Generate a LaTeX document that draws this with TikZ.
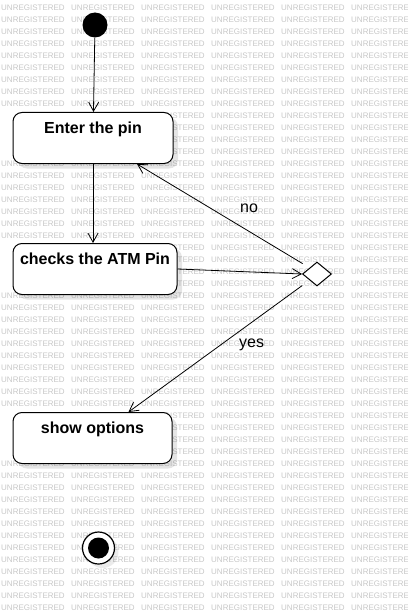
\documentclass[tikz,border=0pt]{standalone}
\usepackage{fontspec}
\setmainfont{Liberation Sans}
\usetikzlibrary{positioning}
\usetikzlibrary{shapes.geometric}
\usetikzlibrary{arrows.meta}
\usetikzlibrary{shadows}

\tikzset{
  watermark/.style={font=\fontsize{8}{9}\selectfont,text=black!22,inner sep=0pt,anchor=west},
  state/.style={draw,rounded corners=9pt,fill=white,line width=1pt,
    font=\fontsize{16}{18}\selectfont\bfseries,inner xsep=0pt,inner ysep=0pt,
    text height=21pt,text depth=30pt,anchor=north,
    drop shadow={fill=black,opacity=0.10,shadow xshift=5pt,shadow yshift=-5pt}},
  decision/.style={draw,diamond,fill=white,minimum width=29pt,minimum height=24pt,
    inner sep=0pt,line width=1pt},
  initial/.style={circle,fill=black,minimum size=25pt,inner sep=0pt},
  final/.style={circle,draw,line width=1.2pt,fill=white,minimum size=32pt,inner sep=0pt,
    drop shadow={fill=black,opacity=0.08,shadow xshift=4pt,shadow yshift=-4pt}},
  flow/.style={-{Straight Barb[length=9pt,width=10pt]},line width=0.8pt},
  lbl/.style={font=\fontsize{16}{18}\selectfont}
}

\begin{document}
\begin{tikzpicture}[x=1pt,y=-1pt]
\useasboundingbox (0,0) rectangle (407,615);

% background watermark (the copies hidden under the states are left out)
\begin{scope}
  \clip (0,0) rectangle (407,615);
  \foreach \r in {0,...,50} {
    \foreach \c in {0,...,5} {
      \pgfmathtruncatemacro{\hide}{(\c<2)*((\r>8)*(\r<13)+(\r>19)*(\r<24)+(\r>33)*(\r<38))}
      \ifnum\hide=0
        \node[watermark] (wm-\c-\r) at (\c*70+1, 8+\r*12) {UNREGISTERED};
      \fi
    }
  }
\end{scope}

% start and end
\node[initial] (ini) at (95,25) {};
\node[final] (fin) at (98.5,548) {};
\fill (fin.center) circle [radius=10.5pt];

% states
\node[state,minimum width=160pt] (enter) at (93,112) {Enter the pin};
\node[state,minimum width=164pt] (check) at (95,243) {checks the ATM Pin};
\node[state,minimum width=159pt] (show) at (92.5,412) {show options};

% decision
\node[decision] (dec) at (317,274) {};

% transitions
\draw[flow] (ini) -- (enter);
\draw[flow] (enter.south) -- (enter.south |- check.north);
\draw[flow] (check.east) -- (dec.west);
\draw[flow,shorten <=8pt] (dec.north west) -- node[lbl,pos=0.35,above=15pt] (no) {no} ([xshift=44pt]enter.south);
\draw[flow,shorten <=9pt] (dec.south west) -- node[lbl,pos=0.32,below=13pt] (yes) {yes} ([xshift=36pt]show.north);

\end{tikzpicture}
\end{document}
